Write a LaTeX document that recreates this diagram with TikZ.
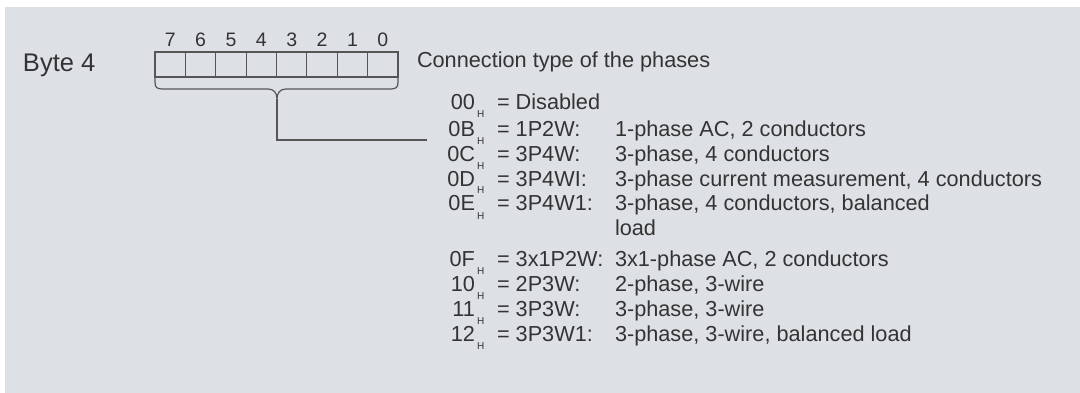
\documentclass[tikz,border=0pt]{standalone}
\usepackage{fontspec}
\setmainfont{Liberation Sans}
\definecolor{bg}{HTML}{DDE1E5}
\definecolor{txt}{HTML}{333333}
\definecolor{ln}{HTML}{555555}
\begin{document}
\begin{tikzpicture}[x=1pt,y=-1pt,
  txtn/.style={inner sep=0pt, outer sep=0pt, anchor=base west, text=txt, font=\fontsize{21.7}{25}\selectfont},
  numn/.style={txtn, anchor=base east},
  subn/.style={inner sep=0pt, outer sep=0pt, anchor=base west, text=txt, font=\fontsize{10}{11}\selectfont},
  bitn/.style={inner sep=0pt, anchor=base, text=txt, font=\fontsize{19.5}{21}\selectfont},
  cell/.style={draw=ln, line width=1.1pt, minimum width=30.375pt, minimum height=25pt, inner sep=0pt, outer sep=0pt},
  conn/.style={draw=ln, line width=1.2pt}]
\useasboundingbox (0,0) rectangle (1080,393);
\fill[bg] (5,7) rectangle (1080,393);
\node[txtn, font=\fontsize{25.5}{27}\selectfont] (byte) at (23,72) {Byte 4};
\foreach \i [count=\k from 0] in {7,6,5,4,3,2,1,0} {
  \node[cell] (b\i) at ({155+30.375*(\k+0.5)},64.5) {};
  \node[bitn] (n\i) at ({155+30.375*(\k+0.5)},47) {\i};
}
\node[txtn] (title) at (417,68) {Connection type of the phases};
% brace
\coordinate (tip) at (277,99);
\coordinate (bl) at (b7.south west);
\coordinate (br) at (b0.south east);
\draw[conn, line join=round] (bl) -- (155,82) .. controls (155,88) and (157,89) .. (164,89) -- (268,89)
  .. controls (274,89) and (277,93) .. (tip)
  .. controls (277,93) and (280,89) .. (286,89) -- (389,89)
  .. controls (396,89) and (398,88) .. (398,82) -- (br);
\coordinate (cend) at (427,140);
\draw[conn] (tip) |- (cend);
% values
\foreach \y/\n/\k/\d [count=\c] in {
  110/00/{= Disabled}/{},
  137/0B/{= 1P2W:}/{1-phase AC, 2 conductors},
  162/0C/{= 3P4W:}/{3-phase, 4 conductors},
  186/0D/{= 3P4WI:}/{3-phase current measurement, 4 conductors},
  211/0E/{= 3P4W1:}/{3-phase, 4 conductors, balanced},
  266/0F/{= 3x1P2W:}/{3x1-phase AC, 2 conductors},
  291/10/{= 2P3W:}/{2-phase, 3-wire},
  316/11/{= 3P3W:}/{3-phase, 3-wire},
  341/12/{= 3P3W1:}/{3-phase, 3-wire, balanced load}} {
  \node[numn] (v\c) at (475,\y) {\n};
  \node[subn] (h\c) at (477,\y+8) {H};
  \node[txtn] (k\c) at (497,\y) {\k};
  \node[txtn] (d\c) at (615,\y) {\d};
}
\node[txtn] (load) at (615,236) {load};
\end{tikzpicture}
\end{document}
